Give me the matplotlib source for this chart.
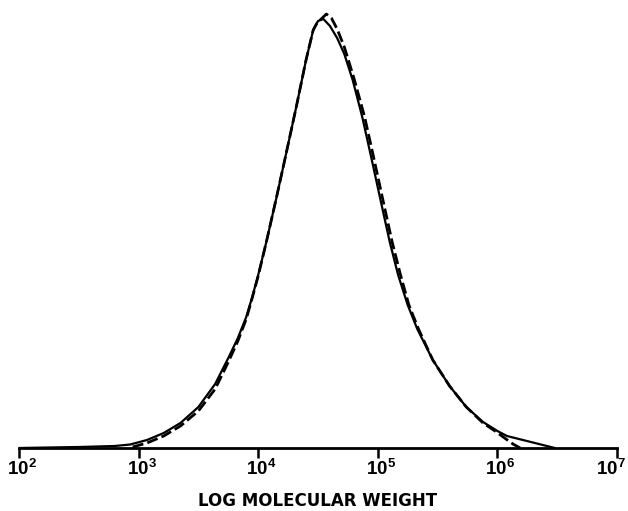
import numpy as np
import matplotlib
matplotlib.use("Agg")
import matplotlib.pyplot as plt
from matplotlib.transforms import ScaledTranslation

plt.rcParams["mathtext.fontset"] = "custom"
plt.rcParams["mathtext.rm"] = "Liberation Sans:bold"
plt.rcParams["mathtext.bf"] = "Liberation Sans:bold"
plt.rcParams["mathtext.it"] = "Liberation Sans:bold"

# log10 molecular weight and relative height (solid curve)
solid_logm = [2.00, 2.50, 2.80, 2.93, 3.07, 3.21, 3.35, 3.50, 3.64, 3.75, 3.83, 3.90, 3.95,
              4.00, 4.07, 4.15, 4.22, 4.32, 4.40, 4.46, 4.50, 4.545, 4.60, 4.66, 4.72,
              4.79, 4.87, 4.95, 5.03, 5.10, 5.17, 5.25, 5.33, 5.46, 5.60, 5.74, 5.88,
              6.00, 6.08, 6.48]
solid_h = [0, 1, 2, 3.5, 8, 15, 25, 41, 64, 90, 110, 131, 151,
           173, 207, 249, 287, 342, 388, 418, 427, 429, 422, 410, 394,
           368, 331, 288, 244, 206, 173, 143, 119, 88, 62, 41, 26,
           17, 12, 0]

# dashed curve
dash_logm = [2.95, 3.07, 3.21, 3.35, 3.50, 3.64, 3.75, 3.83, 3.90, 3.95, 4.00, 4.07, 4.15,
             4.22, 4.32, 4.40, 4.46, 4.492, 4.570, 4.612, 4.66, 4.72, 4.80, 4.89, 4.97,
             5.05, 5.12, 5.19, 5.26, 5.34, 5.46, 5.60, 5.74, 5.88, 5.98, 6.06, 6.13, 6.19]
dash_h = [1, 5, 12, 22, 37, 59, 86, 107, 129, 150, 172, 207, 249,
          287, 342, 388, 418, 425, 434, 430, 419, 401, 370, 331, 288,
          244, 206, 173, 143, 119, 88, 62, 41, 25, 17, 10, 4, 0]

tick_exp = [2, 3, 4, 5, 6, 7]
tick_labels = [f"$10^{{{e}}}$" for e in tick_exp]
xlabel = "LOG MOLECULAR WEIGHT"

fig = plt.figure(figsize=(6.28, 5.11), dpi=100)
ax = fig.add_axes([19/628, 1 - 448/511, (617 - 19)/628, 440/511])

ax.plot(10**np.array(solid_logm), solid_h, color="black", lw=1.6,
        solid_joinstyle="round", solid_capstyle="round")
ax.plot(10**np.array(dash_logm), dash_h, color="black", lw=2.0,
        linestyle=(0, (4, 1.5)))

ax.set_xscale("log")
ax.set_xlim(1e2, 1e7)
ax.set_ylim(0, 440)
ax.set_xticks([10.0**e for e in tick_exp])
ax.set_xticklabels(tick_labels, fontsize=13.5)
ax.minorticks_off()
ax.tick_params(axis="x", direction="out", length=7, width=1.8, pad=1.0)
ax.set_yticks([])
for s in ["top", "right", "left"]:
    ax.spines[s].set_visible(False)
ax.spines["bottom"].set_linewidth(2.0)
ax.spines["bottom"].set_clip_on(False)

# shift labels slightly right (as in reference); keep last label inside figure
labs = ax.get_xticklabels()
for i, lab in enumerate(labs):
    dx = 3/100 if i < len(labs) - 1 else -6/100
    lab.set_transform(lab.get_transform() + ScaledTranslation(dx, 0, fig.dpi_scale_trans))

fig.text(318/628, 1 - 501/511, xlabel, ha="center", va="center",
         fontsize=12, fontweight="bold")

fig.savefig("out.png", dpi=100)
